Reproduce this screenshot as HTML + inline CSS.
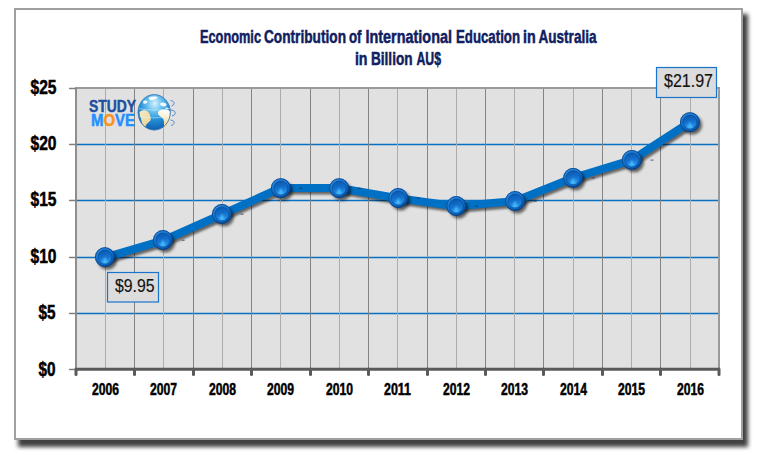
<!DOCTYPE html>
<html><head><meta charset="utf-8"><style>
html,body{margin:0;padding:0;background:#fff;width:763px;height:451px;overflow:hidden}
.shadow{position:absolute;left:18px;top:14px;width:730px;height:433px;background:#404040;filter:blur(2px)}
.frame{position:absolute;left:14px;top:8px;width:729px;height:432px;box-sizing:border-box;border:2px solid #a0a0a0;background:#fff}
svg{position:absolute;left:0;top:0}
text{font-family:"Liberation Sans",sans-serif}
.ax{font-weight:bold;fill:#000;stroke:#000;stroke-width:0.5}
.dl{fill:#111;stroke:#111;stroke-width:0.15}
.tt{font-weight:bold;fill:#102060;stroke:#102060;stroke-width:0.5}
.lg{font-weight:bold;stroke-width:0.5}
</style></head><body>
<div class="shadow"></div>
<div class="frame"></div>
<svg width="763" height="451" viewBox="0 0 763 451">
<defs>
<filter id="blur1" x="-10%" y="-10%" width="120%" height="120%"><feGaussianBlur stdDeviation="1.2"/></filter>
<filter id="blur2" x="-50%" y="-50%" width="200%" height="200%"><feGaussianBlur stdDeviation="1.5"/></filter>
<linearGradient id="mring" x1="0.2" y1="0.1" x2="0.8" y2="0.95">
<stop offset="0" stop-color="#2a8ae6"/><stop offset="0.55" stop-color="#0e6cd0"/><stop offset="1" stop-color="#0550a8"/>
</linearGradient>
<linearGradient id="minner" x1="0.3" y1="0" x2="0.5" y2="1">
<stop offset="0" stop-color="#0a58ad"/><stop offset="0.5" stop-color="#136fcc"/><stop offset="1" stop-color="#2a98ee"/>
</linearGradient>
<filter id="blur3" x="-50%" y="-50%" width="200%" height="200%"><feGaussianBlur stdDeviation="0.9"/></filter>
<radialGradient id="globe" cx="0.5" cy="0.28" r="0.8" fx="0.52" fy="0.25">
<stop offset="0" stop-color="#d8f2ff"/><stop offset="0.28" stop-color="#6cc2ef"/><stop offset="0.55" stop-color="#2690d8"/><stop offset="0.85" stop-color="#1266b8"/><stop offset="1" stop-color="#2a6aac"/>
</radialGradient>
<linearGradient id="land" x1="0" y1="0" x2="0.3" y2="1"><stop offset="0" stop-color="#f6ebc4"/><stop offset="1" stop-color="#ead59a"/></linearGradient>
<linearGradient id="land2" x1="0" y1="0" x2="0" y2="1"><stop offset="0" stop-color="#ffffff"/><stop offset="0.4" stop-color="#f8f0d0"/><stop offset="1" stop-color="#ecd28c"/></linearGradient>
</defs>
<rect x="77" y="89" width="641.0" height="280" fill="#e1e1e1"/>
<line x1="77" y1="313.55" x2="718.0" y2="313.55" stroke="#0a70c4" stroke-width="1.4"/>
<line x1="77" y1="257.55" x2="718.0" y2="257.55" stroke="#0a70c4" stroke-width="1.4"/>
<line x1="77" y1="200.55" x2="718.0" y2="200.55" stroke="#0a70c4" stroke-width="1.4"/>
<line x1="77" y1="144.55" x2="718.0" y2="144.55" stroke="#0a70c4" stroke-width="1.4"/>
<rect x="105" y="89" width="1" height="279" fill="#acacac"/>
<rect x="163" y="89" width="1" height="279" fill="#acacac"/>
<rect x="222" y="89" width="1" height="279" fill="#acacac"/>
<rect x="280" y="89" width="1" height="279" fill="#acacac"/>
<rect x="339" y="89" width="1" height="279" fill="#acacac"/>
<rect x="397" y="89" width="1" height="279" fill="#acacac"/>
<rect x="456" y="89" width="1" height="279" fill="#acacac"/>
<rect x="514" y="89" width="1" height="279" fill="#acacac"/>
<rect x="573" y="89" width="1" height="279" fill="#acacac"/>
<rect x="631" y="89" width="1" height="279" fill="#acacac"/>
<rect x="690" y="89" width="1" height="279" fill="#acacac"/>
<rect x="134" y="89" width="1" height="279" fill="#848484"/>
<rect x="193" y="89" width="1" height="279" fill="#848484"/>
<rect x="251" y="89" width="1" height="279" fill="#848484"/>
<rect x="310" y="89" width="1" height="279" fill="#848484"/>
<rect x="368" y="89" width="1" height="279" fill="#848484"/>
<rect x="427" y="89" width="1" height="279" fill="#848484"/>
<rect x="485" y="89" width="1" height="279" fill="#848484"/>
<rect x="543" y="89" width="1" height="279" fill="#848484"/>
<rect x="602" y="89" width="1" height="279" fill="#848484"/>
<rect x="660" y="89" width="1" height="279" fill="#848484"/>
<line x1="75" y1="88" x2="720.0" y2="88" stroke="#9a9a9a" stroke-width="2"/>
<line x1="76" y1="88" x2="76" y2="369" stroke="#8e8e8e" stroke-width="2"/>
<line x1="719.0" y1="88" x2="719.0" y2="369" stroke="#9a9a9a" stroke-width="2"/>
<line x1="69.5" y1="369.50" x2="76" y2="369.50" stroke="#808080" stroke-width="1.3" stroke-linecap="round"/>
<line x1="69.5" y1="313.50" x2="76" y2="313.50" stroke="#808080" stroke-width="1.3" stroke-linecap="round"/>
<line x1="69.5" y1="257.50" x2="76" y2="257.50" stroke="#808080" stroke-width="1.3" stroke-linecap="round"/>
<line x1="69.5" y1="200.50" x2="76" y2="200.50" stroke="#808080" stroke-width="1.3" stroke-linecap="round"/>
<line x1="69.5" y1="144.50" x2="76" y2="144.50" stroke="#808080" stroke-width="1.3" stroke-linecap="round"/>
<line x1="69.5" y1="88.50" x2="76" y2="88.50" stroke="#808080" stroke-width="1.3" stroke-linecap="round"/>
<line x1="76" y1="369.2" x2="719.0" y2="369.2" stroke="#5a5a5a" stroke-width="3"/>
<line x1="76.00" y1="369" x2="76.00" y2="374.5" stroke="#5a5a5a" stroke-width="3" stroke-linecap="round"/>
<line x1="134.50" y1="369" x2="134.50" y2="374.5" stroke="#5a5a5a" stroke-width="3" stroke-linecap="round"/>
<line x1="193.50" y1="369" x2="193.50" y2="374.5" stroke="#5a5a5a" stroke-width="3" stroke-linecap="round"/>
<line x1="251.50" y1="369" x2="251.50" y2="374.5" stroke="#5a5a5a" stroke-width="3" stroke-linecap="round"/>
<line x1="310.50" y1="369" x2="310.50" y2="374.5" stroke="#5a5a5a" stroke-width="3" stroke-linecap="round"/>
<line x1="368.50" y1="369" x2="368.50" y2="374.5" stroke="#5a5a5a" stroke-width="3" stroke-linecap="round"/>
<line x1="427.50" y1="369" x2="427.50" y2="374.5" stroke="#5a5a5a" stroke-width="3" stroke-linecap="round"/>
<line x1="485.50" y1="369" x2="485.50" y2="374.5" stroke="#5a5a5a" stroke-width="3" stroke-linecap="round"/>
<line x1="543.50" y1="369" x2="543.50" y2="374.5" stroke="#5a5a5a" stroke-width="3" stroke-linecap="round"/>
<line x1="602.50" y1="369" x2="602.50" y2="374.5" stroke="#5a5a5a" stroke-width="3" stroke-linecap="round"/>
<line x1="660.50" y1="369" x2="660.50" y2="374.5" stroke="#5a5a5a" stroke-width="3" stroke-linecap="round"/>
<line x1="719.00" y1="369" x2="719.00" y2="374.5" stroke="#5a5a5a" stroke-width="3" stroke-linecap="round"/>
<path d="M104.6,257.7 L162.6,240.6 L221.6,214.5 L280.5,188.0 L338.8,188.0 L397.9,198.2 L455.9,206.2 L514.7,201.2 L572.8,178.0 L631.5,160.1 L689.6,122.3" fill="none" stroke="#000" stroke-opacity="0.55" stroke-width="8" stroke-linejoin="round" transform="translate(2,2.5)" filter="url(#blur1)"/>
<path d="M104.6,257.7 L162.6,240.6 L221.6,214.5 L280.5,188.0 L338.8,188.0 L397.9,198.2 L455.9,206.2 L514.7,201.2 L572.8,178.0 L631.5,160.1 L689.6,122.3" fill="none" stroke="#0070c4" stroke-width="8" stroke-linejoin="round"/>
<rect x="181.6" y="239.7" width="3" height="1" fill="#1a2a50" opacity="0.7"/>
<rect x="240.6" y="213.6" width="3" height="1" fill="#1a2a50" opacity="0.7"/>
<rect x="299.5" y="187.8" width="3" height="1" fill="#1a2a50" opacity="0.7"/>
<rect x="357.8" y="187.8" width="3" height="1" fill="#1a2a50" opacity="0.7"/>
<rect x="416.9" y="197.7" width="3" height="1" fill="#1a2a50" opacity="0.7"/>
<rect x="474.9" y="205.7" width="3" height="1" fill="#1a2a50" opacity="0.7"/>
<rect x="533.7" y="200.7" width="3" height="1" fill="#1a2a50" opacity="0.7"/>
<rect x="591.8" y="177.5" width="3" height="1" fill="#1a2a50" opacity="0.7"/>
<rect x="650.5" y="159.6" width="3" height="1" fill="#1a2a50" opacity="0.7"/>
<circle cx="107.4" cy="259.9" r="9.6" fill="#000" opacity="0.6" filter="url(#blur2)"/>
<circle cx="104.9" cy="257.1" r="9.9" fill="url(#mring)"/>
<circle cx="104.9" cy="257.1" r="9.45" fill="none" stroke="#04305f" stroke-width="0.9" opacity="0.75"/>
<circle cx="104.9" cy="257.1" r="7" fill="url(#minner)"/>
<path d="M104.9,256.6 L102.1,263.3 L107.7,263.3 Z" fill="#50c4ff" opacity="0.95" filter="url(#blur3)"/>
<circle cx="104.9" cy="257.1" r="7" fill="none" stroke="#08427f" stroke-width="0.8" opacity="0.7"/>
<circle cx="165.4" cy="242.8" r="9.6" fill="#000" opacity="0.6" filter="url(#blur2)"/>
<circle cx="162.9" cy="240.0" r="9.9" fill="url(#mring)"/>
<circle cx="162.9" cy="240.0" r="9.45" fill="none" stroke="#04305f" stroke-width="0.9" opacity="0.75"/>
<circle cx="162.9" cy="240.0" r="7" fill="url(#minner)"/>
<path d="M162.9,239.5 L160.1,246.2 L165.7,246.2 Z" fill="#50c4ff" opacity="0.95" filter="url(#blur3)"/>
<circle cx="162.9" cy="240.0" r="7" fill="none" stroke="#08427f" stroke-width="0.8" opacity="0.7"/>
<circle cx="224.4" cy="216.7" r="9.6" fill="#000" opacity="0.6" filter="url(#blur2)"/>
<circle cx="221.9" cy="213.9" r="9.9" fill="url(#mring)"/>
<circle cx="221.9" cy="213.9" r="9.45" fill="none" stroke="#04305f" stroke-width="0.9" opacity="0.75"/>
<circle cx="221.9" cy="213.9" r="7" fill="url(#minner)"/>
<path d="M221.9,213.4 L219.1,220.1 L224.7,220.1 Z" fill="#50c4ff" opacity="0.95" filter="url(#blur3)"/>
<circle cx="221.9" cy="213.9" r="7" fill="none" stroke="#08427f" stroke-width="0.8" opacity="0.7"/>
<circle cx="283.3" cy="190.9" r="9.6" fill="#000" opacity="0.6" filter="url(#blur2)"/>
<circle cx="280.8" cy="188.1" r="9.9" fill="url(#mring)"/>
<circle cx="280.8" cy="188.1" r="9.45" fill="none" stroke="#04305f" stroke-width="0.9" opacity="0.75"/>
<circle cx="280.8" cy="188.1" r="7" fill="url(#minner)"/>
<path d="M280.8,187.6 L278.0,194.3 L283.6,194.3 Z" fill="#50c4ff" opacity="0.95" filter="url(#blur3)"/>
<circle cx="280.8" cy="188.1" r="7" fill="none" stroke="#08427f" stroke-width="0.8" opacity="0.7"/>
<circle cx="341.6" cy="190.9" r="9.6" fill="#000" opacity="0.6" filter="url(#blur2)"/>
<circle cx="339.1" cy="188.1" r="9.9" fill="url(#mring)"/>
<circle cx="339.1" cy="188.1" r="9.45" fill="none" stroke="#04305f" stroke-width="0.9" opacity="0.75"/>
<circle cx="339.1" cy="188.1" r="7" fill="url(#minner)"/>
<path d="M339.1,187.6 L336.3,194.3 L341.9,194.3 Z" fill="#50c4ff" opacity="0.95" filter="url(#blur3)"/>
<circle cx="339.1" cy="188.1" r="7" fill="none" stroke="#08427f" stroke-width="0.8" opacity="0.7"/>
<circle cx="400.7" cy="200.8" r="9.6" fill="#000" opacity="0.6" filter="url(#blur2)"/>
<circle cx="398.2" cy="198.0" r="9.9" fill="url(#mring)"/>
<circle cx="398.2" cy="198.0" r="9.45" fill="none" stroke="#04305f" stroke-width="0.9" opacity="0.75"/>
<circle cx="398.2" cy="198.0" r="7" fill="url(#minner)"/>
<path d="M398.2,197.5 L395.4,204.2 L401.0,204.2 Z" fill="#50c4ff" opacity="0.95" filter="url(#blur3)"/>
<circle cx="398.2" cy="198.0" r="7" fill="none" stroke="#08427f" stroke-width="0.8" opacity="0.7"/>
<circle cx="458.7" cy="208.8" r="9.6" fill="#000" opacity="0.6" filter="url(#blur2)"/>
<circle cx="456.2" cy="206.0" r="9.9" fill="url(#mring)"/>
<circle cx="456.2" cy="206.0" r="9.45" fill="none" stroke="#04305f" stroke-width="0.9" opacity="0.75"/>
<circle cx="456.2" cy="206.0" r="7" fill="url(#minner)"/>
<path d="M456.2,205.5 L453.4,212.2 L459.0,212.2 Z" fill="#50c4ff" opacity="0.95" filter="url(#blur3)"/>
<circle cx="456.2" cy="206.0" r="7" fill="none" stroke="#08427f" stroke-width="0.8" opacity="0.7"/>
<circle cx="517.5" cy="203.8" r="9.6" fill="#000" opacity="0.6" filter="url(#blur2)"/>
<circle cx="515.0" cy="201.0" r="9.9" fill="url(#mring)"/>
<circle cx="515.0" cy="201.0" r="9.45" fill="none" stroke="#04305f" stroke-width="0.9" opacity="0.75"/>
<circle cx="515.0" cy="201.0" r="7" fill="url(#minner)"/>
<path d="M515.0,200.5 L512.2,207.2 L517.8,207.2 Z" fill="#50c4ff" opacity="0.95" filter="url(#blur3)"/>
<circle cx="515.0" cy="201.0" r="7" fill="none" stroke="#08427f" stroke-width="0.8" opacity="0.7"/>
<circle cx="575.6" cy="180.6" r="9.6" fill="#000" opacity="0.6" filter="url(#blur2)"/>
<circle cx="573.1" cy="177.8" r="9.9" fill="url(#mring)"/>
<circle cx="573.1" cy="177.8" r="9.45" fill="none" stroke="#04305f" stroke-width="0.9" opacity="0.75"/>
<circle cx="573.1" cy="177.8" r="7" fill="url(#minner)"/>
<path d="M573.1,177.3 L570.3,184.0 L575.9,184.0 Z" fill="#50c4ff" opacity="0.95" filter="url(#blur3)"/>
<circle cx="573.1" cy="177.8" r="7" fill="none" stroke="#08427f" stroke-width="0.8" opacity="0.7"/>
<circle cx="634.3" cy="162.7" r="9.6" fill="#000" opacity="0.6" filter="url(#blur2)"/>
<circle cx="631.8" cy="159.9" r="9.9" fill="url(#mring)"/>
<circle cx="631.8" cy="159.9" r="9.45" fill="none" stroke="#04305f" stroke-width="0.9" opacity="0.75"/>
<circle cx="631.8" cy="159.9" r="7" fill="url(#minner)"/>
<path d="M631.8,159.4 L629.0,166.1 L634.6,166.1 Z" fill="#50c4ff" opacity="0.95" filter="url(#blur3)"/>
<circle cx="631.8" cy="159.9" r="7" fill="none" stroke="#08427f" stroke-width="0.8" opacity="0.7"/>
<circle cx="692.4" cy="124.9" r="9.6" fill="#000" opacity="0.6" filter="url(#blur2)"/>
<circle cx="689.9" cy="122.1" r="9.9" fill="url(#mring)"/>
<circle cx="689.9" cy="122.1" r="9.45" fill="none" stroke="#04305f" stroke-width="0.9" opacity="0.75"/>
<circle cx="689.9" cy="122.1" r="7" fill="url(#minner)"/>
<path d="M689.9,121.6 L687.1,128.3 L692.7,128.3 Z" fill="#50c4ff" opacity="0.95" filter="url(#blur3)"/>
<circle cx="689.9" cy="122.1" r="7" fill="none" stroke="#08427f" stroke-width="0.8" opacity="0.7"/>
<text x="38.51" y="375.7" class="ax" font-size="19.5" textLength="17.02" lengthAdjust="spacingAndGlyphs">$0</text>
<text x="38.51" y="318.6" class="ax" font-size="19.5" textLength="17.02" lengthAdjust="spacingAndGlyphs">$5</text>
<text x="30.50" y="262.8" class="ax" font-size="19.5" textLength="26.02" lengthAdjust="spacingAndGlyphs">$10</text>
<text x="30.50" y="206.3" class="ax" font-size="19.5" textLength="26.02" lengthAdjust="spacingAndGlyphs">$15</text>
<text x="30.50" y="149.5" class="ax" font-size="19.5" textLength="26.02" lengthAdjust="spacingAndGlyphs">$20</text>
<text x="30.50" y="94.0" class="ax" font-size="19.5" textLength="26.02" lengthAdjust="spacingAndGlyphs">$25</text>
<text x="92.00" y="394.7" class="ax" font-size="15.8" textLength="27.02" lengthAdjust="spacingAndGlyphs">2006</text>
<text x="150.00" y="394.7" class="ax" font-size="15.8" textLength="27.02" lengthAdjust="spacingAndGlyphs">2007</text>
<text x="209.00" y="394.7" class="ax" font-size="15.8" textLength="27.02" lengthAdjust="spacingAndGlyphs">2008</text>
<text x="267.00" y="394.7" class="ax" font-size="15.8" textLength="27.02" lengthAdjust="spacingAndGlyphs">2009</text>
<text x="326.00" y="394.7" class="ax" font-size="15.8" textLength="27.02" lengthAdjust="spacingAndGlyphs">2010</text>
<text x="384.00" y="394.7" class="ax" font-size="15.8" textLength="27.02" lengthAdjust="spacingAndGlyphs">2011</text>
<text x="443.00" y="394.7" class="ax" font-size="15.8" textLength="27.02" lengthAdjust="spacingAndGlyphs">2012</text>
<text x="501.00" y="394.7" class="ax" font-size="15.8" textLength="27.02" lengthAdjust="spacingAndGlyphs">2013</text>
<text x="560.00" y="394.7" class="ax" font-size="15.8" textLength="27.02" lengthAdjust="spacingAndGlyphs">2014</text>
<text x="618.00" y="394.7" class="ax" font-size="15.8" textLength="27.02" lengthAdjust="spacingAndGlyphs">2015</text>
<text x="677.00" y="394.7" class="ax" font-size="15.8" textLength="27.02" lengthAdjust="spacingAndGlyphs">2016</text>
<rect x="107.5" y="272.5" width="51" height="29.5" fill="#dcdcdc" stroke="#1874cd" stroke-width="1.2"/>
<text x="114.99" y="291.8" class="dl" font-size="18" textLength="39.55" lengthAdjust="spacingAndGlyphs">$9.95</text>
<rect x="656.5" y="67.5" width="60" height="30" fill="#dcdcdc" stroke="#1874cd" stroke-width="1.2"/>
<text x="663.99" y="86.9" class="dl" font-size="18" textLength="49.05" lengthAdjust="spacingAndGlyphs">$21.97</text>
<text x="199.99" y="43.0" class="tt" font-size="17.8" textLength="61.02" lengthAdjust="spacingAndGlyphs">Economic</text>
<text x="263.99" y="43.0" class="tt" font-size="17.8" textLength="82.02" lengthAdjust="spacingAndGlyphs">Contribution</text>
<text x="348.98" y="43.0" class="tt" font-size="17.8" textLength="12.53" lengthAdjust="spacingAndGlyphs">of</text>
<text x="365.48" y="43.0" class="tt" font-size="17.8" textLength="86.53" lengthAdjust="spacingAndGlyphs">International</text>
<text x="455.98" y="43.0" class="tt" font-size="17.8" textLength="64.03" lengthAdjust="spacingAndGlyphs">Education</text>
<text x="522.96" y="43.0" class="tt" font-size="17.8" textLength="12.66" lengthAdjust="spacingAndGlyphs">in</text>
<text x="538.50" y="43.0" class="tt" font-size="17.8" textLength="58.01" lengthAdjust="spacingAndGlyphs">Australia</text>
<text x="354.92" y="64.7" class="tt" font-size="17.8" textLength="12.59" lengthAdjust="spacingAndGlyphs">in</text>
<text x="370.99" y="64.7" class="tt" font-size="17.8" textLength="41.53" lengthAdjust="spacingAndGlyphs">Billion</text>
<text x="416.49" y="64.7" class="tt" font-size="17.8" textLength="24.52" lengthAdjust="spacingAndGlyphs">AU$</text>
<text x="89.00" y="111.9" class="lg" font-size="17" textLength="47.01" lengthAdjust="spacingAndGlyphs" fill="#1f4f9f" stroke="#1f4f9f">STUDY</text>
<text x="90.97" y="126.1" class="lg" font-size="17" textLength="44.03" lengthAdjust="spacingAndGlyphs" fill="#1e90ff" stroke="#1e90ff">M<tspan fill="#f7941d" stroke="#f7941d">O</tspan>VE</text>
<g>
<ellipse cx="154.2" cy="112.3" rx="16.3" ry="17.9" fill="url(#globe)"/>
<path d="M149,97.5 C151,96.5 154,96.3 156.5,96.8 C158,97.3 157.5,98.5 156,99 C154,99.5 152.5,100.5 150.5,100.2 C149.3,99.8 148.5,98.5 149,97.5 Z" fill="#ffffff" opacity="0.95"/>
<path d="M143.5,101 C145,100.2 147,100.5 147.5,101.8 C147,103.2 145.5,104 144,103.8 C143,103.2 142.8,102 143.5,101 Z" fill="#ffffff" opacity="0.9"/>
<path d="M160.5,103 C162,102 164.5,102.3 166,103.5 C167,104.5 166.5,106 165,106.5 C163.5,106.8 162,106.5 161,105.5 C160.2,104.8 160,103.8 160.5,103 Z" fill="#ffffff" opacity="0.9"/>
<path d="M165.5,107.5 C167,107.2 168.5,107.8 168.8,109 C167.5,109.5 166,109.2 165.3,108.5 Z" fill="#ffffff" opacity="0.85"/>
<path d="M139.5,112 C140.5,110.8 143,110.2 145,110.3 C147,110.6 148.5,112 149.5,114 C150.5,116 151,118.5 150.5,120.5 C149,122 147.5,123 146.5,124.5 C145.5,126 145,127.5 144.2,128 C142.8,126 141.8,122.5 141.2,119.5 C140.5,117 139.5,114.5 139.5,112 Z" fill="url(#land)"/>
<path d="M158,112 C159.5,110.2 162.5,109.5 165.5,109.6 C168,109.8 169.8,110.5 170.3,112 L170.3,117.5 C169.8,121.5 167.5,125 164,127.8 C163.8,125 164.5,122 163.5,119.5 C162.5,117 159,116.5 158,114 Z" fill="url(#land2)"/>
<path d="M138.6,108.6 Q154,111.8 170,108.4" fill="none" stroke="#e8f8ff" stroke-width="0.7" opacity="0.7"/>
<path d="M138.6,116.2 Q154,119.6 170.2,116" fill="none" stroke="#e8f8ff" stroke-width="0.7" opacity="0.6"/>
<ellipse cx="154.2" cy="112.3" rx="16.1" ry="17.7" fill="none" stroke="#3f78b8" stroke-width="0.9"/>
<path d="M170.5,100.5 q4,0.5 3.5,3.5 q-0.5,1.5 -2.5,2" fill="none" stroke="#4a82c4" stroke-width="0.9"/>
<path d="M171,110 q5,0.5 4,4 q-0.5,1.5 -3,2" fill="none" stroke="#4a82c4" stroke-width="0.9"/>
<path d="M170.5,120 q4.5,0.5 3.5,3.5 q-0.5,1.5 -3,2" fill="none" stroke="#4a82c4" stroke-width="0.9"/>
</g>
</svg>
</body></html>
